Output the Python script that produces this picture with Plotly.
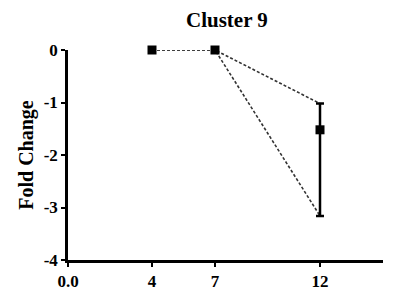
import plotly.graph_objects as go

days = [4, 7, 12]
mean_fc = [0.0, 0.0, -1.52]
upper_fc = [0.0, 0.0, -1.02]
lower_fc = [0.0, 0.0, -3.16]
x_tickvals = [0, 4, 7, 12]
x_ticktext = ["0.0", "4", "7", "12"]
y_tickvals = [0, -1, -2, -3, -4]

font_family = "Liberation Serif"

fig = go.Figure()
dot_line = dict(color="#333333", width=1.6, dash="3px,2px")
fig.add_trace(go.Scatter(x=days, y=upper_fc, mode="lines", line=dot_line,
                         cliponaxis=False, showlegend=False, hoverinfo="skip"))
fig.add_trace(go.Scatter(x=days, y=lower_fc, mode="lines", line=dot_line,
                         cliponaxis=False, showlegend=False, hoverinfo="skip"))
err_plus = [u - m for u, m in zip(upper_fc, mean_fc)]
err_minus = [m - l for m, l in zip(mean_fc, lower_fc)]
fig.add_trace(go.Scatter(
    x=days, y=mean_fc, mode="markers",
    marker=dict(symbol="square", size=9, color="black"),
    error_y=dict(type="data", symmetric=False, array=err_plus, arrayminus=err_minus,
                 color="black", thickness=2.5, width=4),
    cliponaxis=False, showlegend=False))

fig.update_layout(
    width=396, height=293,
    margin=dict(l=68, r=13, t=50, b=33),
    paper_bgcolor="white", plot_bgcolor="white",
    title=dict(text="<b>Cluster 9</b>", x=0.573, xanchor="center", y=0.932, yanchor="middle",
               font=dict(family=font_family, size=21, color="black")),
    font=dict(family=font_family, color="black"),
)
fig.update_xaxes(range=[0, 15], tickvals=x_tickvals, ticktext=["<b>%s</b>" % t for t in x_ticktext],
                 showgrid=False, zeroline=False, showline=True, linecolor="black", linewidth=2.5,
                 ticks="outside", ticklen=4, tickwidth=2, tickcolor="black", automargin=False,
                 tickfont=dict(family=font_family, size=17, color="black"))
fig.update_yaxes(range=[-4, 0], tickvals=y_tickvals, ticktext=["<b>%d</b>" % v for v in y_tickvals],
                 showgrid=False, zeroline=False, showline=True, linecolor="black", linewidth=2.5,
                 ticks="outside", ticklen=4, tickwidth=2, tickcolor="black", automargin=False,
                 tickfont=dict(family=font_family, size=17, color="black"),
                 title=dict(text="<b>Fold Change</b>", font=dict(family=font_family, size=20, color="black"),
                            standoff=5))

fig.write_html("out.html", config={"displayModeBar": False},
               post_script="document.body.style.margin='0';")
